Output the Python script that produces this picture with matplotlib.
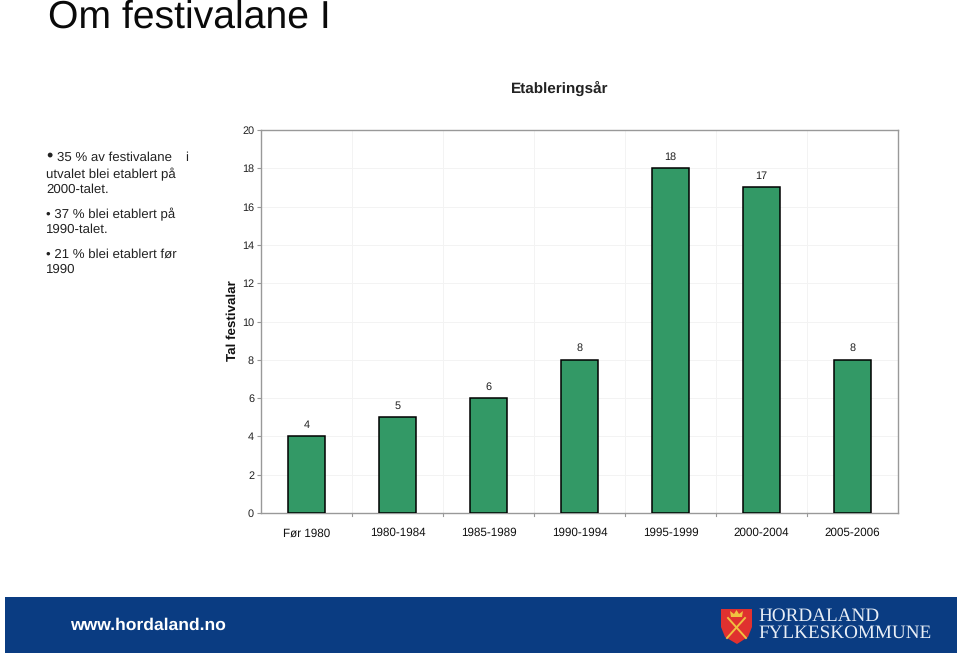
import matplotlib
matplotlib.use('Agg')
import matplotlib.pyplot as plt
from matplotlib.patches import Rectangle, Polygon

plt.rcParams['font.family'] = ['Liberation Sans', 'DejaVu Sans']
plt.rcParams['text.hinting'] = 'no_hinting'

years = ['Før 1980', '1980-1984', '1985-1989', '1990-1994', '1995-1999', '2000-2004', '2005-2006']
counts = [4, 5, 6, 8, 18, 17, 8]
yticks = [0, 2, 4, 6, 8, 10, 12, 14, 16, 18, 20]

W, H = 960, 655
fig = plt.figure(figsize=(W / 100, H / 100), dpi=100)

def fx(x):
    return x / W

def fy(y):
    return 1 - y / H

# chart
ax = fig.add_axes([fx(261), fy(513), fx(898 - 261), (513 - 130) / H])
ax.bar(range(len(years)), counts, width=0.4, color='#339966', edgecolor='black', linewidth=1.1, zorder=3)
ax.set_xlim(-0.5, 6.5)
ax.set_ylim(0, 20)
ax.set_yticks(yticks)
ax.set_xticks(range(len(years)))
ax.set_xticklabels(years, fontsize=8.4, color='#111111')
ax.tick_params(axis='x', length=0, pad=10.5)
ax.tick_params(axis='y', length=3, color='#999999', labelsize=7.8, labelcolor='#222222', pad=2)
ax.grid(axis='y', color='#f3f3f3', linewidth=0.7, zorder=0)
for i in range(1, 7):
    ax.axvline(i - 0.5, color='#f3f3f3', linewidth=0.7, zorder=0)
    ax.plot([i - 0.5, i - 0.5], [0, -0.15], color='#999999', linewidth=0.8, clip_on=False)
for s in ax.spines.values():
    s.set_color('#999999')
    s.set_linewidth(1.0)
for i, c in enumerate(counts):
    ax.annotate(str(c), (i, c), xytext=(0, 11.5), textcoords='offset pixels',
                ha='center', va='center', fontsize=7.8, color='#222222')

fig.text(fx(233), fy(321), 'Tal festivalar', rotation=90, ha='center', va='center',
         fontsize=9.6, fontweight='bold', color='#111111')

# titles
fig.text(fx(48), fy(28), 'Om festivalane I', fontsize=28.2, ha='left', va='baseline', color='#0a0a0a')
fig.text(fx(560), fy(88.5), 'Etableringsår', fontsize=11, fontweight='bold', ha='center', va='center', color='#222222')

# bullet text
lines = [
    (46, 156, '•', 13),
    (57, 158, '35 % av festivalane', 9.5),
    (185, 158, 'i', 9.5),
    (46, 174, 'utvalet blei etablert på', 9.5),
    (46, 189.5, '2000-talet.', 9.5),
    (46, 214, '• 37 % blei etablert på', 9.5),
    (46, 230, '1990-talet.', 9.5),
    (46, 254, '• 21 % blei etablert før', 9.5),
    (46, 270, '1990', 9.5),
]
for x, y, t, size in lines:
    fig.text(fx(x), fy(y), t, fontsize=size, ha='left', va='center', color='#222222')

# footer
fig.add_artist(Rectangle((fx(5), fy(653)), fx(952), 56 / H, transform=fig.transFigure,
                         facecolor='#0a3c82', edgecolor='none'))
fig.text(fx(70), fy(625), 'www.hordaland.no', fontsize=12.6,
         fontweight='bold', ha='left', va='center', color='white')
shield = [(721, 609), (752, 609), (752, 627), (748, 637), (737, 644), (725, 637), (721, 627)]
fig.add_artist(Polygon([(fx(x), fy(y)) for x, y in shield], transform=fig.transFigure,
                       facecolor='#e0312f', edgecolor='none'))
fig.add_artist(plt.Line2D([fx(728), fx(746)], [fy(618), fy(638)], transform=fig.transFigure, color='#f0c040', linewidth=1.4))
fig.add_artist(plt.Line2D([fx(745), fx(727)], [fy(618), fy(638)], transform=fig.transFigure, color='#f0c040', linewidth=1.4))
fig.add_artist(Polygon([(fx(x), fy(y)) for x, y in [(731, 617), (742, 617), (743, 611), (739, 614), (736.5, 610), (734, 614), (730, 611)]],
                       transform=fig.transFigure, facecolor='#f0c040', edgecolor='none'))
fig.text(fx(758), fy(616), 'HORDALAND', family=['Liberation Serif'], fontsize=13.8, ha='left', va='center', color='#e8eef6')
fig.text(fx(758), fy(633), 'FYLKESKOMMUNE', family=['Liberation Serif'], fontsize=13.8, ha='left', va='center', color='#e8eef6')

fig.savefig('out.png', dpi=100)
